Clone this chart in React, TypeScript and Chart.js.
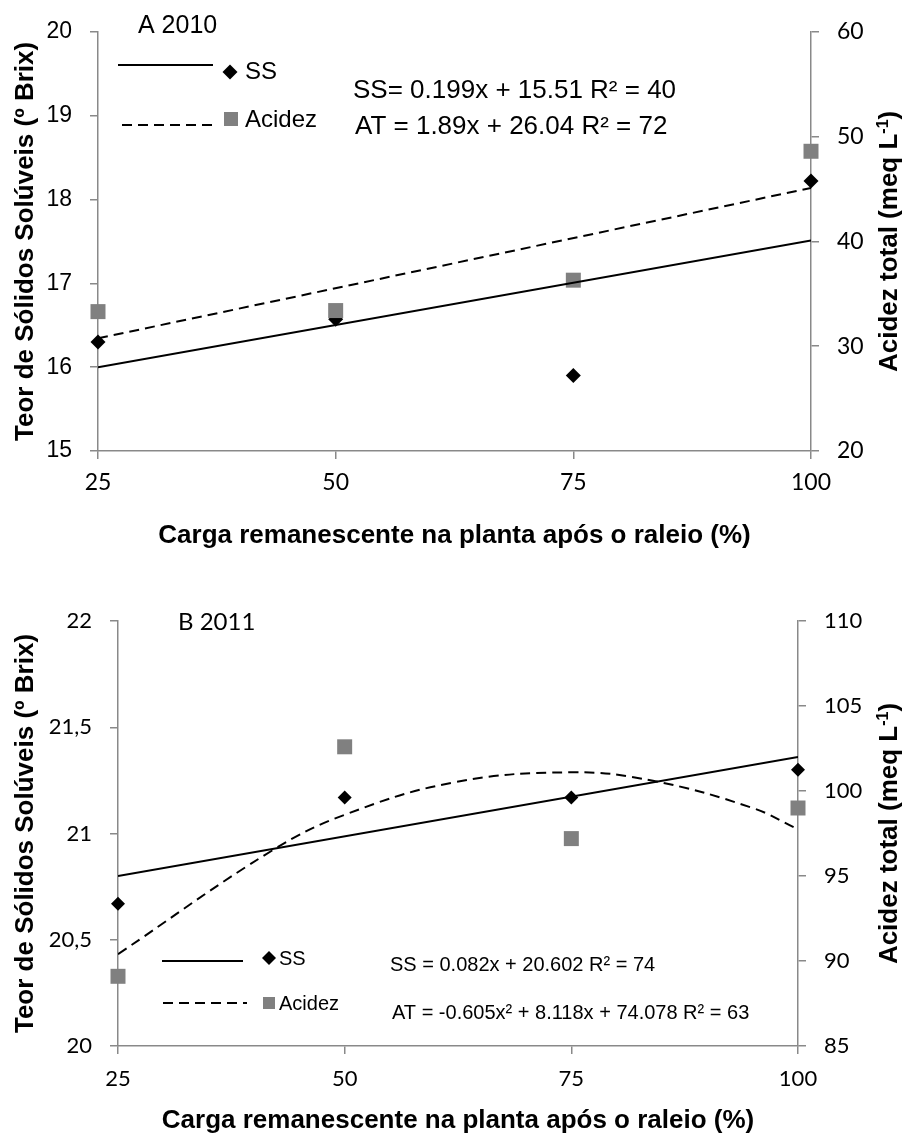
import React, { useEffect, useRef } from "react";
import { Chart, registerables } from "chart.js";

Chart.register(...registerables);

const ARIAL = "'Liberation Sans', Arial, sans-serif";
const CALIBRI = "Lato, 'Open Sans', sans-serif";
const AXIS_GRAY = "#898989";
const SQUARE_GRAY = "#808080";

// ---------- shared data ----------
const xValues = [25, 50, 75, 100];
const xTickValues = [25, 50, 75, 100];
const legendLabels = ["SS", "Acidez"];
const xTitle = "Carga remanescente na planta após o raleio (%)";
const yLeftTitle = "Teor de Sólidos Solúveis (º Brix)";
const yRightTitleMain = "Acidez total (meq L";
const yRightTitleSup = "-1";
const yRightTitleEnd = ")";

// ---------- panel A (2010) ----------
const aLabel = "A 2010";
const aSS = [16.3, 16.57, 15.9, 18.22]; // left axis (º Brix)
const aAcidez = [33.3, 33.4, 36.3, 48.6]; // right axis (meq L-1)
const aSSTrendX = [25, 100];
const aSSTrend = [16.0, 17.51]; // left axis
const aATTrendX = [25, 100];
const aATTrend = [30.75, 45.1]; // right axis
const aLeftTicks = [15, 16, 17, 18, 19, 20];
const aRightTicks = [20, 30, 40, 50, 60];
const aEqSS = "SS= 0.199x + 15.51 R² = 40";
const aEqAT = "AT = 1.89x + 26.04 R² = 72";

// ---------- panel B (2011) ----------
const bLabel = "B 2011";
const bSS = [20.67, 21.17, 21.17, 21.3];
const bAcidez = [89.1, 102.6, 97.2, 99.0];
const bSSTrendX = [25, 100];
const bSSTrend = [20.8, 21.36];
const bATTrendX = [25, 42, 50, 62, 75, 84, 95, 100];
const bATTrend = [90.4, 96.5, 98.6, 100.5, 101.1, 100.6, 99.0, 97.75];
const bLeftTicks = [20, 20.5, 21, 21.5, 22];
const bRightTicks = [85, 90, 95, 100, 105, 110];
const bEqSS = "SS = 0.082x + 20.602 R² = 74";
const bEqAT = "AT = -0.605x² + 8.118x + 74.078 R² = 63";

type Pt = { x: number; y: number };
const zip = (xs: number[], ys: number[]): Pt[] => xs.map((x, i) => ({ x, y: ys[i] }));

function text(ctx: CanvasRenderingContext2D, s: string, x: number, y: number, font: string, align: CanvasTextAlign = "left", baseline: CanvasTextBaseline = "middle") {
  ctx.save();
  ctx.font = font;
  ctx.fillStyle = "#000";
  ctx.textAlign = align;
  ctx.textBaseline = baseline;
  ctx.fillText(s, x, y);
  ctx.restore();
}

function line(ctx: CanvasRenderingContext2D, x1: number, y1: number, x2: number, y2: number, dash: number[]) {
  ctx.save();
  ctx.strokeStyle = "#000";
  ctx.lineWidth = 2;
  ctx.setLineDash(dash);
  ctx.beginPath();
  ctx.moveTo(x1, y1);
  ctx.lineTo(x2, y2);
  ctx.stroke();
  ctx.restore();
}

function diamond(ctx: CanvasRenderingContext2D, x: number, y: number, r: number) {
  ctx.save();
  ctx.fillStyle = "#000";
  ctx.beginPath();
  ctx.moveTo(x - r, y);
  ctx.lineTo(x, y - r);
  ctx.lineTo(x + r, y);
  ctx.lineTo(x, y + r);
  ctx.closePath();
  ctx.fill();
  ctx.restore();
}

function square(ctx: CanvasRenderingContext2D, x: number, y: number, h: number) {
  ctx.save();
  ctx.fillStyle = SQUARE_GRAY;
  ctx.fillRect(x - h, y - h, 2 * h, 2 * h);
  ctx.restore();
}

type Seg = { t: string; font: string; dy: number };
function rotatedRich(ctx: CanvasRenderingContext2D, baselineX: number, cy: number, segs: Seg[]) {
  ctx.save();
  ctx.translate(baselineX, cy);
  ctx.rotate(-Math.PI / 2);
  ctx.fillStyle = "#000";
  ctx.textBaseline = "alphabetic";
  ctx.textAlign = "left";
  let total = 0;
  for (const s of segs) {
    ctx.font = s.font;
    total += ctx.measureText(s.t).width;
  }
  let x = -total / 2;
  for (const s of segs) {
    ctx.font = s.font;
    ctx.fillText(s.t, x, s.dy);
    x += ctx.measureText(s.t).width;
  }
  ctx.restore();
}

const TITLE_FONT = `bold 26px ${ARIAL}`;

function drawAxisTitles(ctx: CanvasRenderingContext2D, chart: any, xTitleBaseline: number) {
  const ca = chart.chartArea;
  const cy = (ca.top + ca.bottom) / 2;
  const cx = (ca.left + ca.right) / 2;
  text(ctx, xTitle, cx, xTitleBaseline, TITLE_FONT, "center", "alphabetic");
  rotatedRich(ctx, 33, cy, [{ t: yLeftTitle, font: TITLE_FONT, dy: 0 }]);
  rotatedRich(ctx, 897, cy, [
    { t: yRightTitleMain, font: TITLE_FONT, dy: 0 },
    { t: yRightTitleSup, font: `bold 16px ${ARIAL}`, dy: -9 },
    { t: yRightTitleEnd, font: TITLE_FONT, dy: 0 },
  ]);
}

function annotateA(chart: any) {
  const ctx = chart.ctx as CanvasRenderingContext2D;
  text(ctx, aLabel, 138, 26, `25px ${ARIAL}`);
  line(ctx, 118, 65, 213, 65, []);
  diamond(ctx, 230, 72, 7.5);
  text(ctx, legendLabels[0], 245, 72, `24px ${ARIAL}`);
  line(ctx, 122, 125, 217, 125, [10, 6]);
  square(ctx, 231, 119, 7);
  text(ctx, legendLabels[1], 245, 120, `24px ${ARIAL}`);
  text(ctx, aEqSS, 353, 91, `26px ${ARIAL}`);
  text(ctx, aEqAT, 355, 127, `26px ${ARIAL}`);
  drawAxisTitles(ctx, chart, 543);
}

function annotateB(chart: any) {
  const ctx = chart.ctx as CanvasRenderingContext2D;
  text(ctx, bLabel, 178, 52, `24px ${CALIBRI}`);
  line(ctx, 162, 391, 243, 391, []);
  diamond(ctx, 269, 388, 7);
  text(ctx, legendLabels[0], 279, 389, `20px ${ARIAL}`);
  line(ctx, 163, 433, 247, 433, [10, 6]);
  square(ctx, 269, 433, 6);
  text(ctx, legendLabels[1], 279, 434, `20px ${ARIAL}`);
  text(ctx, bEqSS, 390, 395, `20px ${ARIAL}`);
  text(ctx, bEqAT, 392, 443, `20px ${ARIAL}`);
  drawAxisTitles(ctx, chart, 558);
}

type Spec = {
  width: number;
  height: number;
  padTop: number;
  leftW: number;
  rightW: number;
  xAxisH: number;
  xTickPad: number;
  xFontSize: number;
  leftTicks: number[];
  rightTicks: number[];
  leftFont: any;
  rightFont: any;
  leftFormat: (v: number) => string;
  ss: number[];
  acidez: number[];
  ssTrendX: number[];
  ssTrend: number[];
  atTrendX: number[];
  atTrend: number[];
  diamondR: number;
  squareR: number;
  curve: boolean;
  annotate: (chart: any) => void;
};

function buildChart(canvas: HTMLCanvasElement, s: Spec) {
  const gridCommon = {
    display: true,
    drawOnChartArea: false,
    drawTicks: true,
    tickLength: 8,
    color: AXIS_GRAY,
    lineWidth: 1.5,
  };
  const borderCommon = { display: true, color: AXIS_GRAY, width: 1.5 };
  return new Chart(canvas, {
    type: "scatter",
    data: {
      datasets: [
        {
          label: "SS trend",
          data: zip(s.ssTrendX, s.ssTrend),
          yAxisID: "y",
          showLine: true,
          borderColor: "#000",
          borderWidth: 2,
          pointRadius: 0,
          fill: false,
        },
        {
          label: "Acidez trend",
          data: zip(s.atTrendX, s.atTrend),
          yAxisID: "y2",
          showLine: true,
          borderColor: "#000",
          borderWidth: 2,
          borderDash: [10, 6],
          pointRadius: 0,
          tension: s.curve ? 0.4 : 0,
          fill: false,
        },
        {
          label: legendLabels[1],
          data: zip(xValues, s.acidez),
          yAxisID: "y2",
          pointStyle: "rect",
          pointRadius: s.squareR,
          backgroundColor: SQUARE_GRAY,
          borderColor: SQUARE_GRAY,
          borderWidth: 0,
          showLine: false,
          clip: false,
        },
        {
          label: legendLabels[0],
          data: zip(xValues, s.ss),
          yAxisID: "y",
          pointStyle: "rectRot",
          pointRadius: s.diamondR,
          backgroundColor: "#000",
          borderColor: "#000",
          borderWidth: 0,
          showLine: false,
          clip: false,
        },
      ] as any,
    },
    options: {
      responsive: false,
      animation: false,
      events: [],
      layout: { padding: { top: s.padTop, left: 0, right: 0, bottom: 0 } },
      plugins: {
        legend: { display: false },
        tooltip: { enabled: false },
        title: { display: false },
      },
      scales: {
        x: {
          type: "linear",
          min: 25,
          max: 100,
          afterBuildTicks: (sc: any) => {
            sc.ticks = xTickValues.map((v) => ({ value: v }));
          },
          afterFit: (sc: any) => {
            sc.height = s.xAxisH;
          },
          ticks: {
            color: "#000",
            font: { family: CALIBRI, size: s.xFontSize },
            padding: s.xTickPad,
            maxRotation: 0,
            autoSkip: false,
          },
          grid: gridCommon,
          border: borderCommon,
        },
        y: {
          type: "linear",
          position: "left",
          min: s.leftTicks[0],
          max: s.leftTicks[s.leftTicks.length - 1],
          afterBuildTicks: (sc: any) => {
            sc.ticks = s.leftTicks.map((v) => ({ value: v }));
          },
          afterFit: (sc: any) => {
            sc.width = s.leftW;
          },
          ticks: {
            color: "#000",
            font: s.leftFont,
            padding: 18,
            callback: (v: any) => s.leftFormat(Number(v)),
          },
          grid: gridCommon,
          border: borderCommon,
        },
        y2: {
          type: "linear",
          position: "right",
          min: s.rightTicks[0],
          max: s.rightTicks[s.rightTicks.length - 1],
          afterBuildTicks: (sc: any) => {
            sc.ticks = s.rightTicks.map((v) => ({ value: v }));
          },
          afterFit: (sc: any) => {
            sc.width = s.rightW;
          },
          ticks: {
            color: "#000",
            font: s.rightFont,
            padding: 18,
          },
          grid: gridCommon,
          border: borderCommon,
        },
      },
    } as any,
    plugins: [
      {
        id: "annot",
        afterDraw: (chart: any) => s.annotate(chart),
      },
    ],
  });
}

const specA: Spec = {
  width: 903,
  height: 570,
  padTop: 27,
  leftW: 98,
  rightW: 92,
  xAxisH: 119,
  xTickPad: 10,
  xFontSize: 23,
  leftTicks: aLeftTicks,
  rightTicks: aRightTicks,
  leftFont: { family: ARIAL, size: 23 },
  rightFont: { family: CALIBRI, size: 23 },
  leftFormat: (v) => String(v),
  ss: aSS,
  acidez: aAcidez,
  ssTrendX: aSSTrendX,
  ssTrend: aSSTrend,
  atTrendX: aATTrendX,
  atTrend: aATTrend,
  diamondR: 7.5,
  squareR: 10.6,
  curve: false,
  annotate: annotateA,
};

const specB: Spec = {
  width: 903,
  height: 563,
  padTop: 51,
  leftW: 118,
  rightW: 105,
  xAxisH: 87,
  xTickPad: 12,
  xFontSize: 22,
  leftTicks: bLeftTicks,
  rightTicks: bRightTicks,
  leftFont: { family: CALIBRI, size: 22 },
  rightFont: { family: CALIBRI, size: 22 },
  leftFormat: (v) => String(v).replace(".", ","),
  ss: bSS,
  acidez: bAcidez,
  ssTrendX: bSSTrendX,
  ssTrend: bSSTrend,
  atTrendX: bATTrendX,
  atTrend: bATTrend,
  diamondR: 7,
  squareR: 10.6,
  curve: true,
  annotate: annotateB,
};

function Panel({ spec, top }: { spec: Spec; top: number }) {
  const ref = useRef<HTMLCanvasElement | null>(null);
  useEffect(() => {
    if (!ref.current) return;
    const c = buildChart(ref.current, spec);
    return () => c.destroy();
  }, [spec]);
  return (
    <canvas
      ref={ref}
      width={spec.width}
      height={spec.height}
      style={{ position: "absolute", left: 0, top, width: spec.width, height: spec.height, display: "block" }}
    />
  );
}

export default function App() {
  return (
    <div style={{ position: "absolute", left: 0, top: 0, width: 903, height: 1133, background: "#fff" }}>
      <Panel spec={specA} top={0} />
      <Panel spec={specB} top={570} />
    </div>
  );
}
